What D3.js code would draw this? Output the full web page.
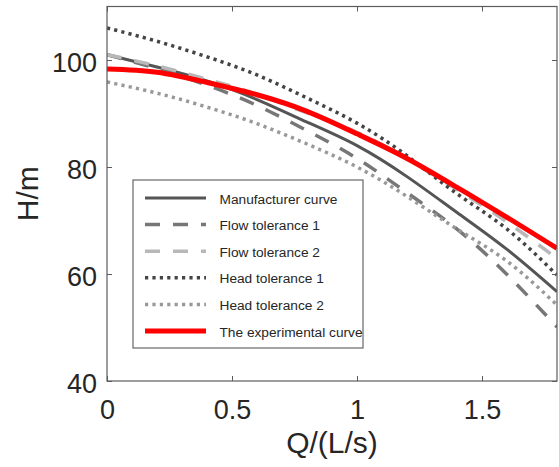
<!DOCTYPE html>
<html>
<head>
<meta charset="utf-8">
<script src="https://cdn.jsdelivr.net/npm/d3@7"></script>
<style>
  html, body { margin: 0; padding: 0; background: #fff; }
  svg { display: block; font-family: "Liberation Sans", Arial, sans-serif; }
</style>
</head>
<body>
<svg id="chart" width="559" height="467"></svg>
<script>
// Flow rate Q (L/s) at which each head curve is sampled
const flow = [0, 0.2, 0.4, 0.6, 0.8, 1.0, 1.2, 1.4, 1.6, 1.8];

// Head H (m) for each curve
const manufacturer   = [101.0, 98.7, 96.1, 92.6, 88.4, 84.0, 78.2, 71.5, 64.6, 56.7];
const flowTol1       = [101.0, 98.4, 95.3, 91.5, 86.8, 81.6, 75.2, 68.4, 59.9, 50.1];
const flowTol2       = [101.0, 98.9, 96.4, 93.6, 90.1, 86.5, 81.5, 75.8, 69.7, 62.9];
const headTol1       = [106.0, 103.5, 100.6, 97.2, 92.9, 88.2, 82.1, 75.0, 68.4, 59.8];
const headTol2       = [95.9, 93.8, 91.2, 88.1, 84.3, 80.0, 74.5, 68.4, 62.4, 54.2];
const experimental   = [98.3, 97.7, 95.8, 93.5, 90.4, 86.2, 81.6, 76.2, 70.6, 64.8];

const seriesNames = ["Manufacturer curve", "Flow tolerance 1", "Flow tolerance 2",
                     "Head tolerance 1", "Head tolerance 2", "The experimental curve"];

const xTicks = [0, 0.5, 1, 1.5];
const xTickLabels = ["0", "0.5", "1", "1.5"];
const yTicks = [40, 60, 80, 100];
const yTickLabels = ["40", "60", "80", "100"];

// Line styles, in the same order as the series
const styles = [
  { color: "#555555", width: 3,   dash: null },
  { color: "#777777", width: 3.5, dash: "15,13" },
  { color: "#b8b8b8", width: 3.5, dash: "15,13" },
  { color: "#444444", width: 3.5, dash: "3.2,4.2" },
  { color: "#999999", width: 3.5, dash: "3.2,4.2" },
  { color: "#ff0000", width: 5,   dash: null }
];

const allSeries = [manufacturer, flowTol1, flowTol2, headTol1, headTol2, experimental];

const svg = d3.select("#chart");
const plot = { left: 107, right: 557, top: 6.5, bottom: 381 };

const x = d3.scaleLinear().domain([0, 1.8]).range([plot.left, plot.right]);
const y = d3.scaleLinear().domain([40, 110]).range([plot.bottom, plot.top]);

svg.append("defs").append("clipPath").attr("id", "plotClip")
  .append("rect")
  .attr("x", plot.left).attr("y", plot.top)
  .attr("width", plot.right - plot.left).attr("height", plot.bottom - plot.top);

// Curves
const line = d3.line()
  .x((d, i) => x(flow[i]))
  .y(d => y(d))
  .curve(d3.curveNatural);

const curves = svg.append("g").attr("clip-path", "url(#plotClip)");
allSeries.forEach((vals, k) => {
  const s = styles[k];
  curves.append("path")
    .datum(vals)
    .attr("d", line)
    .attr("fill", "none")
    .attr("stroke", s.color)
    .attr("stroke-width", s.width)
    .attr("stroke-dasharray", s.dash)
    .attr("stroke-linecap", "butt");
});

// Axes: inward ticks on all four sides
const axisColor = "#5c5c5c";
const labelColor = "#262626";

const xAxis = svg.append("g")
  .attr("transform", `translate(0,${plot.bottom})`)
  .call(d3.axisBottom(x).tickValues(xTicks)
    .tickFormat((d, i) => xTickLabels[i]).tickSizeInner(-5).tickSizeOuter(0).tickPadding(19));
const yAxis = svg.append("g")
  .attr("transform", `translate(${plot.left},0)`)
  .call(d3.axisLeft(y).tickValues(yTicks)
    .tickFormat((d, i) => yTickLabels[i]).tickSizeInner(-5).tickSizeOuter(0).tickPadding(10));
const xTop = svg.append("g")
  .attr("transform", `translate(0,${plot.top})`)
  .call(d3.axisTop(x).tickValues(xTicks).tickFormat("").tickSizeInner(-5).tickSizeOuter(0));
const yRight = svg.append("g")
  .attr("transform", `translate(${plot.right},0)`)
  .call(d3.axisRight(y).tickValues(yTicks).tickFormat("").tickSizeInner(-5).tickSizeOuter(0));

[xAxis, yAxis, xTop, yRight].forEach(g => {
  g.select(".domain").remove();
  g.selectAll(".tick line").attr("stroke", axisColor).attr("stroke-width", 1);
});
xAxis.selectAll(".tick text")
  .attr("font-size", 27).attr("fill", labelColor)
  .attr("font-family", "Liberation Sans, Arial, sans-serif");
yAxis.selectAll(".tick text")
  .attr("font-size", 27).attr("fill", labelColor).attr("dy", "0.41em")
  .attr("font-family", "Liberation Sans, Arial, sans-serif");

// Box around the plotting area
svg.append("rect")
  .attr("x", plot.left).attr("y", plot.top)
  .attr("width", plot.right - plot.left).attr("height", plot.bottom - plot.top)
  .attr("fill", "none").attr("stroke", axisColor).attr("stroke-width", 1.2);

// Axis titles
svg.append("text")
  .attr("x", (plot.left + plot.right) / 2).attr("y", 453)
  .attr("text-anchor", "middle").attr("font-size", 30).attr("fill", labelColor)
  .text("Q/(L/s)");
svg.append("text")
  .attr("transform", `translate(38,${(plot.top + plot.bottom) / 2}) rotate(-90)`)
  .attr("text-anchor", "middle").attr("font-size", 30).attr("fill", labelColor)
  .text("H/m");

// Legend
const legend = svg.append("g");
legend.append("rect")
  .attr("x", 133).attr("y", 180).attr("width", 230).attr("height", 168)
  .attr("fill", "#fff").attr("stroke", "#666").attr("stroke-width", 1.2);

const rowY = d3.scaleLinear().domain([0, seriesNames.length - 1]).range([198, 331]);
seriesNames.forEach((name, k) => {
  const s = styles[k];
  const yy = rowY(k);
  legend.append("line")
    .attr("x1", 145).attr("x2", 206).attr("y1", yy).attr("y2", yy)
    .attr("stroke", s.color).attr("stroke-width", s.width)
    .attr("stroke-dasharray", s.dash);
  legend.append("text")
    .attr("x", 219.5).attr("y", yy + 5.5)
    .attr("font-size", 13.7).attr("fill", labelColor)
    .text(name);
});
</script>
</body>
</html>
